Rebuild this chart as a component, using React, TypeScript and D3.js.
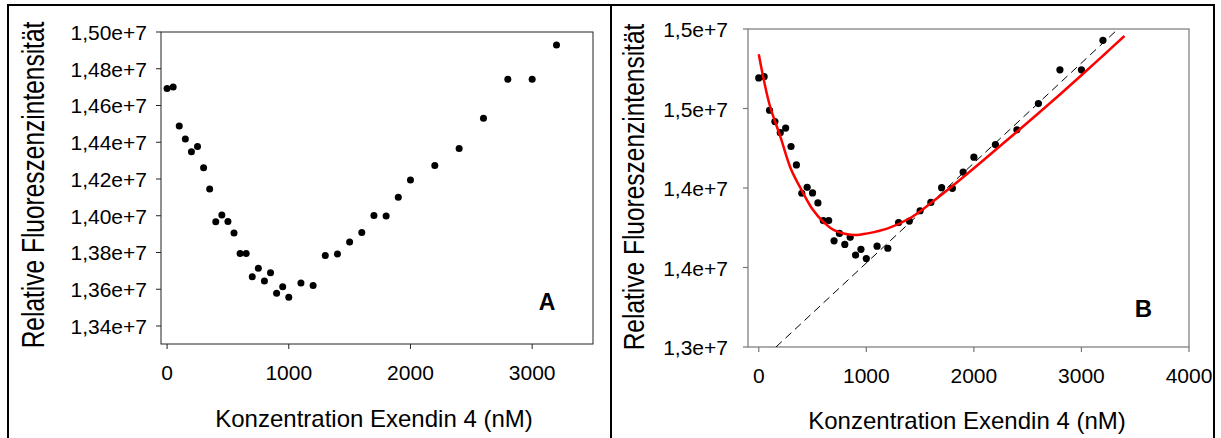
import React from "react";
import * as d3 from "d3";

// Concentration of Exendin 4 (nM)
const concentrations = [0, 50, 100, 150, 200, 250, 300, 350, 400, 450, 500, 550, 600, 650, 700, 750, 800, 850, 900, 950, 1000, 1100, 1200, 1300, 1400, 1500, 1600, 1700, 1800, 1900, 2000, 2200, 2400, 2600, 2800, 3000, 3200];
// Relative fluorescence intensity (units of 1e7)
const intensities = [1.4692, 1.47, 1.4489, 1.4418, 1.4348, 1.4377, 1.4261, 1.4145, 1.3967, 1.4004, 1.3969, 1.3906, 1.3795, 1.3795, 1.3668, 1.3714, 1.3645, 1.369, 1.3578, 1.3614, 1.3556, 1.3634, 1.3621, 1.3783, 1.3792, 1.3857, 1.3909, 1.4002, 1.3998, 1.41, 1.4194, 1.4273, 1.4366, 1.4531, 1.4743, 1.4743, 1.4929];

// Fitted curve (red)
const fitConc = [0, 100, 200, 300, 400, 500, 600, 700, 800, 900, 1000, 1200, 1400, 1600, 1800, 2000, 2200, 2400, 2600, 2800, 3000, 3200, 3400];
const fitValues = [1.4841, 1.4525, 1.4325, 1.4118, 1.3985, 1.3866, 1.3787, 1.3735, 1.3712, 1.3704, 1.3713, 1.3746, 1.3808, 1.3905, 1.4012, 1.4124, 1.4239, 1.4354, 1.447, 1.4588, 1.4709, 1.4832, 1.4956];

// Linear asymptote (dashed)
const lineConc = [160, 3340];
const lineValues = [1.3, 1.5];

// Panel A ticks
const aXTicks = [0, 1000, 2000, 3000];
const aYTicks = [1.34, 1.36, 1.38, 1.4, 1.42, 1.44, 1.46, 1.48, 1.5];
const aYLabels = ["1,34e+7", "1,36e+7", "1,38e+7", "1,40e+7", "1,42e+7", "1,44e+7", "1,46e+7", "1,48e+7", "1,50e+7"];

// Panel B ticks
const bXTicks = [0, 1000, 2000, 3000, 4000];
const bYTicks = [1.3, 1.35, 1.4, 1.45, 1.5];
const bYLabels = ["1,3e+7", "1,4e+7", "1,4e+7", "1,5e+7", "1,5e+7"];

const xTitle = "Konzentration Exendin 4 (nM)";
const yTitle = "Relative Fluoreszenzintensität";

const FONT = "'Liberation Sans', Arial, Helvetica, sans-serif";

export default function App() {
  const points = concentrations.map((c, i) => ({ c, v: intensities[i] }));
  const fit = fitConc.map((c, i) => ({ c, v: fitValues[i] }));
  const asym = lineConc.map((c, i) => ({ c, v: lineValues[i] }));

  // Panel A scales
  const ax = d3.scaleLinear().domain([-50, 3500]).range([161, 593]);
  const ay = d3.scaleLinear().domain([1.3302, 1.5]).range([344, 32]);
  // Panel B scales
  const bx = d3.scaleLinear().domain([-100, 4000]).range([748, 1189]);
  const by = d3.scaleLinear().domain([1.3, 1.5]).range([347, 29]);

  const fitLine = d3
    .line<{ c: number; v: number }>()
    .x((d) => bx(d.c))
    .y((d) => by(d.v))
    .curve(d3.curveCatmullRom);
  const asymLine = d3
    .line<{ c: number; v: number }>()
    .x((d) => bx(d.c))
    .y((d) => by(d.v));

  const [ax0, ax1] = ax.range();
  const [ay0, ay1] = ay.range();
  const [bx0, bx1] = bx.range();
  const [by0, by1] = by.range();

  return (
    <svg
      width={1221}
      height={438}
      style={{ position: "absolute", left: 0, top: 0, background: "#fff" }}
      fontFamily={FONT}
    >
      <rect x={0} y={0} width={1221} height={438} fill="#fff" />
      {/* outer frame */}
      <rect x={8} y={5} width={1206} height={460} fill="none" stroke="#000" strokeWidth={2} />
      <line x1={611} x2={611} y1={5} y2={438} stroke="#000" strokeWidth={2} />

      {/* ---------- Panel A ---------- */}
      <rect x={ax0} y={ay1} width={ax1 - ax0} height={ay0 - ay1} fill="none" stroke="#222" strokeWidth={1} />
      {aYTicks.map((t, i) => (
        <g key={"ay" + i}>
          <line x1={ax0 - 5} x2={ax0} y1={ay(t)} y2={ay(t)} stroke="#222" />
          <text x={ax0 - 14} y={ay(t) + 8} fontSize={21} textAnchor="end" fill="#000">
            {aYLabels[i]}
          </text>
        </g>
      ))}
      {aXTicks.map((t, i) => (
        <g key={"ax" + i}>
          <line x1={ax(t)} x2={ax(t)} y1={ay0} y2={ay0 + 5} stroke="#222" />
          <text x={ax(t)} y={ay0 + 36} fontSize={21} textAnchor="middle" fill="#000">
            {String(t)}
          </text>
        </g>
      ))}
      {points.map((d, i) => (
        <circle key={"ap" + i} cx={ax(d.c)} cy={ay(d.v)} r={3.5} fill="#000" />
      ))}
      <text x={547} y={310} fontSize={23} fontWeight="bold" textAnchor="middle">A</text>
      <text x={374} y={427} fontSize={24} textAnchor="middle">{xTitle}</text>
      <text transform={`translate(44,185) rotate(-90) scale(1,1.28)`} fontSize={24.5} textAnchor="middle">
        {yTitle}
      </text>

      {/* ---------- Panel B ---------- */}
      <rect x={bx0} y={by1} width={bx1 - bx0} height={by0 - by1} fill="none" stroke="#777" strokeWidth={1.2} />
      {bYTicks.map((t, i) => (
        <g key={"by" + i}>
          <line x1={bx0 - 5} x2={bx0} y1={by(t)} y2={by(t)} stroke="#777" strokeWidth={1.2} />
          <text x={bx0 - 20} y={by(t) + 8} fontSize={21} textAnchor="end" fill="#000">
            {bYLabels[i]}
          </text>
        </g>
      ))}
      {bXTicks.map((t, i) => (
        <g key={"bx" + i}>
          <line x1={bx(t)} x2={bx(t)} y1={by0} y2={by0 + 5} stroke="#777" strokeWidth={1.2} />
          <text x={bx(t)} y={by0 + 36} fontSize={21} textAnchor="middle" fill="#000">
            {String(t)}
          </text>
        </g>
      ))}
      <path d={asymLine(asym) || ""} fill="none" stroke="#000" strokeWidth={1} strokeDasharray="8,5" />
      {points.map((d, i) => (
        <circle key={"bp" + i} cx={bx(d.c)} cy={by(d.v)} r={3.6} fill="#000" />
      ))}
      <path d={fitLine(fit) || ""} fill="none" stroke="#ff0000" strokeWidth={2.5} />
      <text x={1143.5} y={317} fontSize={24} fontWeight="bold" textAnchor="middle">B</text>
      <text x={967} y={429} fontSize={24} textAnchor="middle">{xTitle}</text>
      <text transform={`translate(644,187) rotate(-90) scale(1,1.2)`} fontSize={24.5} textAnchor="middle">
        {yTitle}
      </text>
    </svg>
  );
}
